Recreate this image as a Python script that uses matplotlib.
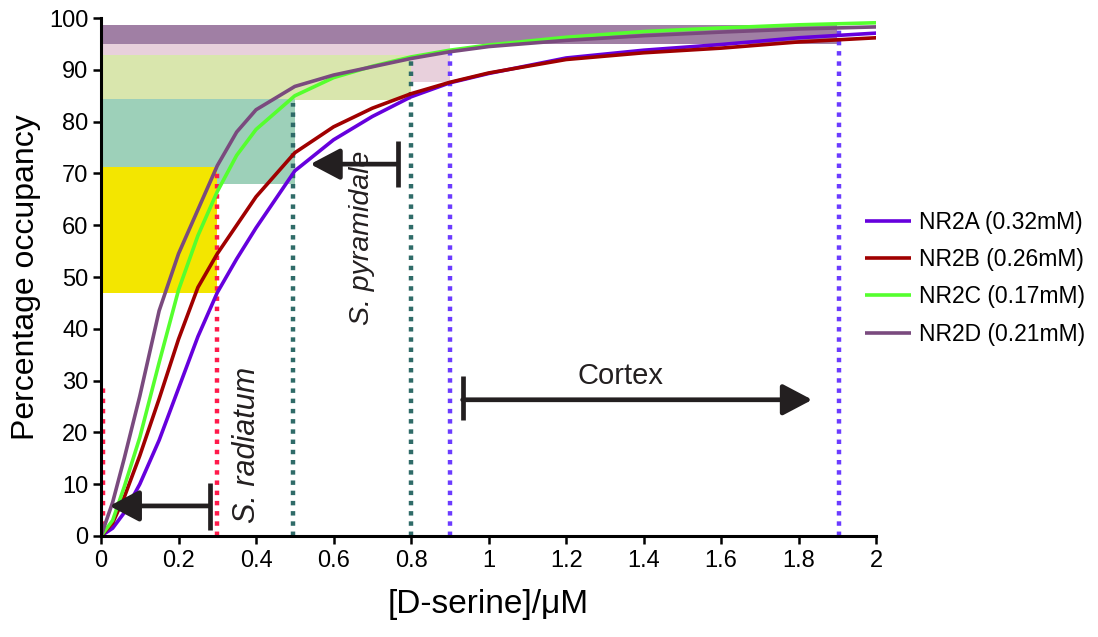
import matplotlib
matplotlib.use("Agg")
import matplotlib.pyplot as plt

plt.rcParams['font.family'] = ['Liberation Sans', 'DejaVu Sans']

# Occupancy curves for each NMDA receptor subunit ([D-serine] in uM, % occupancy)
conc = [0, 0.03, 0.06, 0.1, 0.15, 0.2, 0.25, 0.3, 0.35, 0.4, 0.5, 0.6, 0.7,
        0.8, 0.9, 1.0, 1.2, 1.4, 1.6, 1.8, 2.0]
occ_nr2a = [0, 1.5, 4.5, 10.0, 18.5, 28.5, 38.5, 47.0, 53.5, 59.5, 70.5, 76.5, 81.0,
            84.8, 87.5, 89.3, 92.3, 93.8, 94.9, 96.2, 97.1]
occ_nr2b = [0, 2.5, 7.5, 15.5, 26.5, 38.0, 48.0, 54.5, 60.0, 65.5, 74.0, 79.0, 82.6,
            85.4, 87.6, 89.4, 92.0, 93.3, 94.2, 95.4, 96.2]
occ_nr2c = [0, 3.0, 9.5, 19.0, 33.5, 47.5, 58.0, 66.5, 73.5, 78.5, 85.0, 88.5, 90.7,
            92.5, 93.8, 94.8, 96.3, 97.4, 98.1, 98.7, 99.1]
occ_nr2d = [0, 6.5, 15.0, 27.0, 43.5, 54.5, 63.0, 71.5, 78.0, 82.3, 86.8, 89.0, 90.6,
            92.2, 93.5, 94.5, 95.7, 96.6, 97.3, 97.9, 98.3]

series_labels = ['NR2A (0.32mM)', 'NR2B (0.26mM)', 'NR2C (0.17mM)', 'NR2D (0.21mM)']
series_colors = ['#6600dd', '#a00000', '#55ff2e', '#7a4a7e']

# Shaded occupancy ranges: right edge (uM), lower and upper occupancy (%)
band_x_end = [1.9, 0.9, 0.8, 0.5, 0.3]
band_lo = [95.0, 87.7, 84.2, 68.0, 47.0]
band_hi = [98.7, 95.0, 92.8, 84.4, 71.3]
band_colors = ['#a07fa4', '#e8d0dc', '#d9e6ad', '#9dd0b9', '#f3e600']

# Dotted concentration markers: position (uM) and height (%)
marker_x = [0.005, 0.3, 0.495, 0.8, 0.9, 1.905]
marker_top = [29.5, 70.7, 83.6, 92.0, 93.8, 98.5]
marker_colors = ['#ff1a4a', '#ff1a4a', '#2f6b68', '#2f6b68', '#6b3bff', '#6b3bff']

x_ticks = [0, 0.2, 0.4, 0.6, 0.8, 1, 1.2, 1.4, 1.6, 1.8, 2]
x_tick_labels = ['0', '0.2', '0.4', '0.6', '0.8', '1', '1.2', '1.4', '1.6', '1.8', '2']
y_ticks = list(range(0, 101, 10))

fig = plt.figure(figsize=(10.98, 6.37), dpi=100)
ax = fig.add_axes([0.092, 0.1586, 0.706, 0.813])

for xe, lo, hi, c in zip(band_x_end, band_lo, band_hi, band_colors):
    ax.fill_between([0, xe], [lo, lo], [hi, hi], color=c, lw=0, zorder=1)

for mx, mt, c in zip(marker_x, marker_top, marker_colors):
    ax.plot([mx, mx], [0, mt], color=c, lw=3.2, linestyle=(0, (1, 1.3)),
            dash_capstyle='butt', zorder=2)

handles = []
for ys, lab, c in zip([occ_nr2a, occ_nr2b, occ_nr2c, occ_nr2d], series_labels, series_colors):
    h, = ax.plot(conc, ys, color=c, lw=2.6, label=lab, zorder=3,
                 solid_capstyle='butt', solid_joinstyle='round')
    handles.append(h)

# Range arrows with end bars
arrow_color = '#231f20'
def range_arrow(x_tail, x_tip, y, bar_lo, bar_hi):
    ax.plot([x_tail, x_tail], [bar_lo, bar_hi], color=arrow_color, lw=3.4,
            solid_capstyle='butt', zorder=5)
    ax.annotate('', xy=(x_tip, y), xytext=(x_tail, y),
                arrowprops=dict(arrowstyle='-|>,head_length=18,head_width=9.5',
                                mutation_scale=1, lw=3.4, color=arrow_color,
                                shrinkA=0, shrinkB=0),
                zorder=5)

range_arrow(0.28, 0.022, 5.8, 1.2, 10.3)
range_arrow(0.765, 0.54, 71.8, 67.4, 76.3)
range_arrow(0.933, 1.835, 26.3, 22.3, 30.8)

ax.text(0.377, 17.6, 'S. radiatum', rotation=90, style='italic', fontsize=22,
        ha='center', va='center', color='#231f20', zorder=6)
ax.text(0.674, 57.5, 'S. pyramidale', rotation=90, style='italic', fontsize=20.5,
        ha='center', va='center', color='#231f20', zorder=6)
ax.text(1.34, 30.8, 'Cortex', fontsize=21, ha='center', va='center',
        color='#231f20', zorder=6)

ax.set_xlim(0, 2)
ax.set_ylim(0, 100)
ax.set_xticks(x_ticks)
ax.set_xticklabels(x_tick_labels)
ax.set_yticks(y_ticks)
ax.tick_params(axis='x', direction='out', length=6, width=1.8, labelsize=17, pad=4)
ax.tick_params(axis='y', direction='out', length=6, width=1.8, labelsize=17, pad=3)
for side in ('top', 'right'):
    ax.spines[side].set_visible(False)
for side in ('left', 'bottom'):
    ax.spines[side].set_linewidth(2.2)
    ax.spines[side].set_zorder(7)

ax.set_xlabel('[D-serine]/\u03bcM', fontsize=24, labelpad=12)
ax.set_ylabel('Percentage occupancy', fontsize=23, labelpad=6)

fig.legend(handles=handles, labels=series_labels, loc='center left',
           bbox_to_anchor=(0.788, 0.563), frameon=False, fontsize=16.5,
           handlelength=2.0, handletextpad=0.35, labelspacing=0.62,
           borderpad=0, borderaxespad=0)

fig.savefig('out.png', dpi=100)
